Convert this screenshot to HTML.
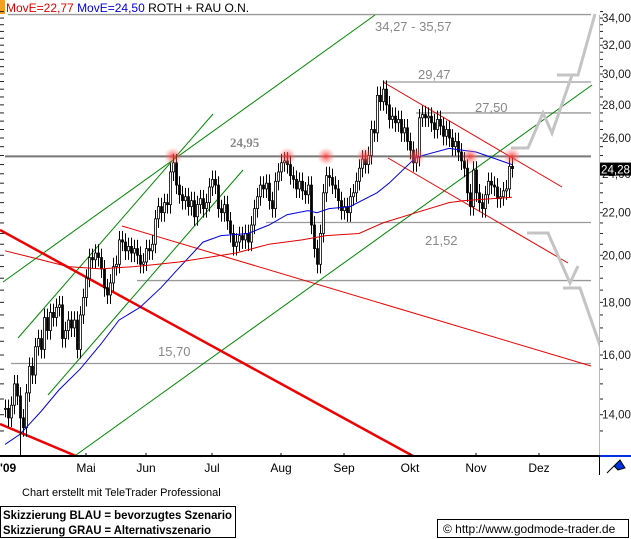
<!DOCTYPE html>
<html><head><meta charset="utf-8">
<style>
body{margin:0;background:#fff;width:631px;height:539px;overflow:hidden;font-family:"Liberation Sans",sans-serif}
svg{display:block}
</style></head><body>
<svg id="c" width="631" height="539" viewBox="0 0 631 539" xmlns="http://www.w3.org/2000/svg">
<defs>
<radialGradient id="glow"><stop offset="0" stop-color="#ff3030" stop-opacity="0.85"/><stop offset="0.5" stop-color="#ff6060" stop-opacity="0.45"/><stop offset="1" stop-color="#ff8080" stop-opacity="0"/></radialGradient>
</defs>
<rect x="0" y="0" width="5" height="14" fill="#f5a020"/>
<text x="6" y="12" font-size="12"><tspan fill="#e00000">MovE=22,77</tspan> <tspan fill="#0000e0">MovE=24,50</tspan> <tspan fill="#000">ROTH + RAU O.N.</tspan></text>
<rect x="615" y="4" width="14" height="2" fill="#bbb"/>
<g id="grid"></g>
<g id="lines"></g>
<g id="candles"></g>
<g id="ma"></g>
<g id="glows"></g>
<g id="labels"></g>
<g id="axis"></g>
<text x="22" y="496" font-size="11" fill="#000">Chart erstellt mit TeleTrader Professional</text>
<rect x="0.5" y="506.5" width="235" height="31" fill="none" stroke="#000"/>
<text x="3" y="519" font-size="11.5" font-weight="bold" textLength="229" lengthAdjust="spacingAndGlyphs">Skizzierung BLAU = bevorzugtes Szenario</text>
<text x="3" y="534" font-size="11.5" font-weight="bold" textLength="208" lengthAdjust="spacingAndGlyphs">Skizzierung GRAU = Alternativszenario</text>
<rect x="437.5" y="519.5" width="191" height="18" fill="none" stroke="#000"/>
<text x="443" y="533" font-size="12">© http://www.godmode-trader.de</text>
</svg>
<script>
const closes=[14.2,13.9,14.3,15.0,14.6,13.9,13.6,14.7,15.6,15.3,16.3,16.6,16.2,17.4,16.9,17.6,17.4,17.8,17.9,16.6,16.9,17.3,17.0,17.3,16.2,17.5,18.2,19.0,19.9,19.8,20.1,19.9,19.4,18.6,18.3,18.8,19.5,19.6,20.7,20.6,20.2,20.4,20.1,20.3,20.0,19.6,19.7,20.3,20.2,20.5,21.7,22.3,22.0,22.5,22.4,24.1,24.6,23.4,22.9,22.6,22.8,22.3,22.6,21.8,22.4,22.7,22.2,22.5,23.3,23.7,23.4,22.2,22.0,22.4,21.6,21.0,20.4,20.6,20.9,20.7,21.0,20.6,21.4,22.2,22.8,23.4,23.2,23.5,22.6,22.2,23.6,24.1,24.6,24.7,24.5,23.9,23.7,23.2,23.6,23.1,22.9,23.4,21.4,20.3,19.6,21.0,23.0,23.9,23.8,23.4,23.2,22.6,22.1,22.3,22.0,22.8,23.0,23.6,24.3,24.8,24.5,25.0,26.5,26.3,28.6,28.2,29.0,28.0,27.1,27.3,26.9,27.1,26.3,26.6,25.8,25.3,24.6,24.9,27.2,27.4,27.2,27.3,26.9,26.5,27.1,26.7,26.1,26.5,26.0,25.5,25.8,25.2,24.7,24.3,23.0,22.3,24.2,23.0,22.5,22.2,22.9,23.6,23.4,23.3,22.7,22.8,23.1,23.2,24.4,24.28];
const blueIdx=[0,5,12,18,25,32,38,45,52,57,66,72,81,88,94,101,104,108,115,124,128,137,148,157,169];
const blueVal=[13.1,13.4,14.1,14.8,15.5,16.4,17.3,17.8,18.6,19.3,20.6,20.9,21.0,21.4,21.9,22.1,22.0,22.2,22.3,23.0,23.5,24.9,25.4,25.2,24.5];
const redIdx=[0,9,21,32,43,51,58,77,88,99,107,118,126,137,148,153,169];
const redVal=[20.2,19.9,19.5,19.4,19.5,19.6,19.7,20.1,20.5,20.7,20.9,21.0,21.5,22.0,22.5,22.6,22.77];
const priceTicks=[34,32,30,28,26,24,22,20,18,16,14];
const tickLabels=["34,00","32,00","30,00","28,00","26,00","24,00","22,00","20,00","18,00","16,00","14,00"];
const months=["Mai","Jun","Jul","Aug","Sep","Okt","Nov","Dez"];
const monthIdx=[27,47,69,92,113,135,157,178];
const levels=[34.27,29.47,27.50,24.95,21.52,18.9,15.70];
const levelStartIdx=[1,126,137,0,87,44,2];
const resistIdx=[56,94,107,120,137,155,169];

const NS="http://www.w3.org/2000/svg";
const X=i=>5+3*i;
const Y=p=>82+(Math.log(29.47)-Math.log(p))*447;
function mk(tag,attrs,parent){const e=document.createElementNS(NS,tag);for(const k in attrs)e.setAttribute(k,attrs[k]);document.getElementById(parent).appendChild(e);return e;}

levels.forEach((p,k)=>{
  const e=mk('line',{x1:X(levelStartIdx[k]),x2:591,y1:Y(p),y2:Y(p),stroke:k==3?'#777':'#999','stroke-width':k==3?2:1.3},'grid');
  
  
});
const tl=[
 [3,282,375,15,'#080',1],[18,338,213,114,'#080',1],[48,395,243,170,'#080',1],[76,455,592,85,'#080',1],
 [0,230,413,456,'#e00',2.5],[0,424,76,456,'#e00',2.5],
 [122,226,591,366,'#e00',1],[383,82,562,187,'#e00',1],[388,158,568,263,'#e00',1]
];
tl.forEach(t=>{
  const e=mk('line',{x1:t[0],y1:t[1],x2:t[2],y2:t[3],stroke:t[4],'stroke-width':t[5]},'lines');
  
  
});
const sc1=mk('polyline',{points:'511,148 528,148 543,113 552,133 572,75 557,75 578,75 595,14',fill:'none',stroke:'#c4c4c4','stroke-width':3},'lines');


const sc2=mk('polyline',{points:'527,233 548,233 570,283 578,266',fill:'none',stroke:'#c4c4c4','stroke-width':3},'lines');


const sc3=mk('polyline',{points:'563,288 580,288 605,360',fill:'none',stroke:'#c4c4c4','stroke-width':3},'lines');



closes.forEach((c,i)=>{
  const o=i?closes[i-1]:c;
  const hi=Math.max(o,c)*1.02, lo=Math.min(o,c)*0.98;
  const x=X(i);
  const w=mk('line',{x1:x+0.5,x2:x+0.5,y1:Y(hi),y2:Y(lo),stroke:'#000','stroke-width':1},'candles');
  
  
  const top=Y(Math.max(o,c)),bot=Y(Math.min(o,c));
  const b=mk('rect',{x:x-0.5,y:top,width:2,height:Math.max(1,bot-top),fill:c>=o?'#fff':'#000',stroke:'#000','stroke-width':0.8},'candles');
  
  
});
function maPath(idx,val,col,name){
  let d=idx.map((i,k)=>(k?'L':'M')+X(i)+','+Y(val[k]).toFixed(1)).join(' ');
  const e=mk('path',{d:d,fill:'none',stroke:col,'stroke-width':1},'ma');
  
  
}
maPath(blueIdx,blueVal,'#0000e0','moving-average-blue');
maPath(redIdx,redVal,'#e00000','moving-average-red');
resistIdx.forEach(i=>{
  const e=mk('circle',{cx:X(i),cy:Y(24.95),r:9,fill:'url(#glow)'},'glows');
  
  
});
const lbl=[["34,27 - 35,57",375,31,false],["29,47",418,79,false],["27,50",475,112,false],["24,95",230,147,true],["21,52",425,245,false],["15,70",158,356,false]];
lbl.forEach(l=>{
  const e=mk('text',{x:l[1],y:l[2],'font-size':13,fill:'#888','font-weight':l[3]?'bold':'normal','font-family':l[3]?'Liberation Serif, serif':'Liberation Sans, sans-serif'},'labels');
  e.textContent=l[0];
  
  
});
mk('rect',{x:599,y:0,width:32,height:455,fill:'#fff'},'axis');
const yl=mk('line',{x1:599.5,x2:599.5,y1:15,y2:455,stroke:'#f0c000','stroke-width':1},'axis');


for(let p=13.5;p<=34.5;p+=0.5){
  const y=Y(p);
  mk('line',{x1:600,x2:603,y1:y,y2:y,stroke:'#222'},'axis');
  mk('line',{x1:0,x2:4,y1:y,y2:y,stroke:'#222'},'axis');
}
priceTicks.forEach((p,k)=>{
  const e=mk('text',{x:602,y:Y(p)+4,'font-size':12,fill:'#222',textLength:29,lengthAdjust:'spacingAndGlyphs'},'axis');
  e.textContent=tickLabels[k];
  
  
});
const lastY=Y(closes[closes.length-1]);
mk('rect',{x:600,y:lastY-6,width:31,height:13,fill:'#000'},'axis');
const lt=mk('text',{x:601,y:lastY+5,'font-size':12,fill:'#fff',textLength:29,lengthAdjust:'spacingAndGlyphs'},'axis');
lt.textContent='24,28';


const xl=mk('line',{x1:0,x2:599,y1:456,y2:456,stroke:'#000','stroke-width':2},'axis');


mk('line',{x1:599,x2:631,y1:456,y2:456,stroke:'#0030e0','stroke-width':2},'axis');
mk('line',{x1:599.5,x2:599.5,y1:455,y2:475,stroke:'#000'},'axis');
const ic=mk('path',{d:'M607,473 L617,463 M614,466 L620,460 L625,468 L618,470 Z',fill:'#0030e0',stroke:'#000','stroke-width':1},'axis');


mk('line',{x1:20.5,x2:20.5,y1:420,y2:455,stroke:'#000'},'axis');
const yr=mk('text',{x:0,y:472,'font-size':12,'font-weight':'bold'},'axis');
yr.textContent="'09";


months.forEach((m,k)=>{
  const x=X(monthIdx[k]);
  mk('line',{x1:x,x2:x,y1:453,y2:455,stroke:'#000'},'axis');
  const e=mk('text',{x:x,y:472,'font-size':12,'text-anchor':'middle',fill:'#000'},'axis');
  e.textContent=m;
  
  
});
</script>
</body></html>
